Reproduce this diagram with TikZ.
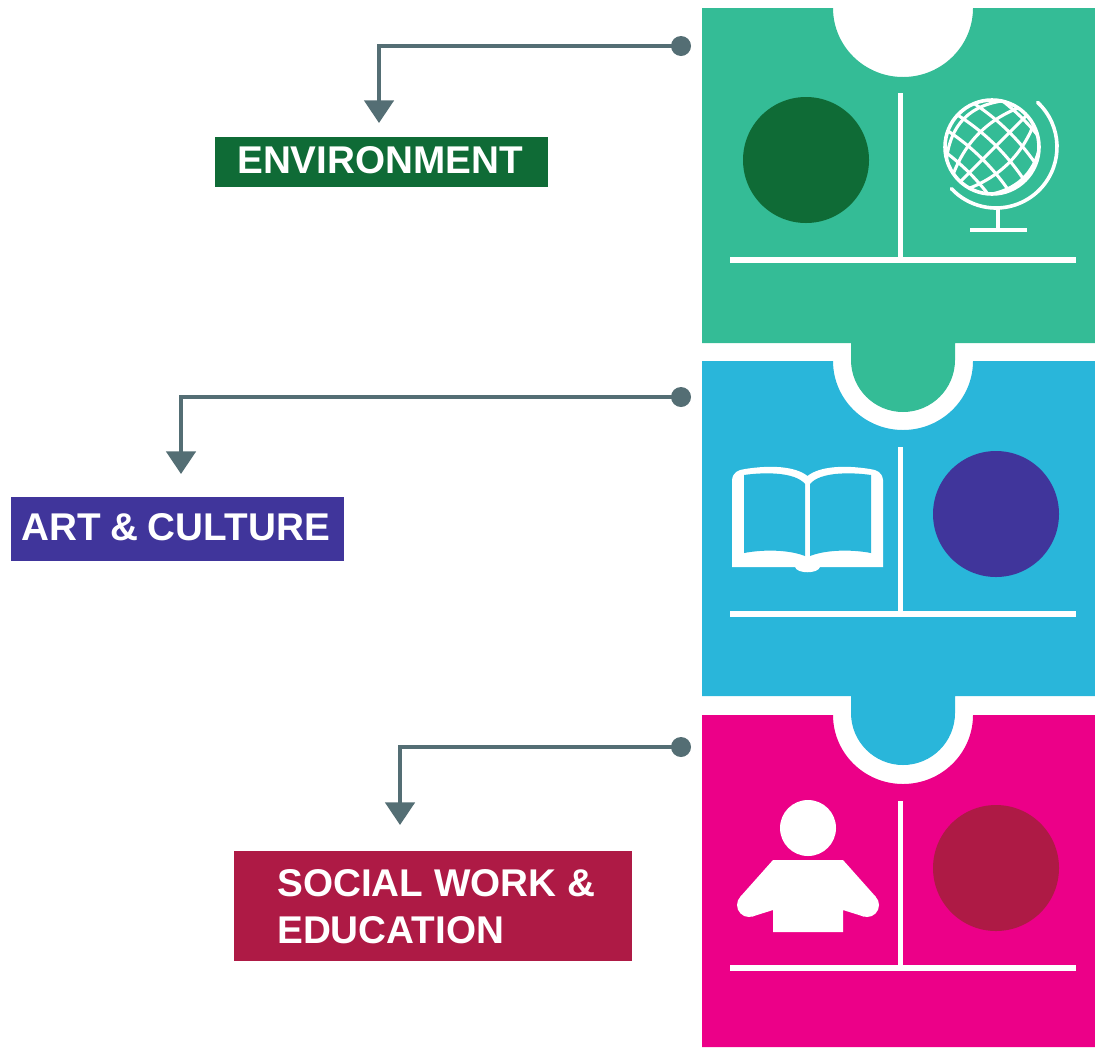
\documentclass[tikz,border=0pt]{standalone}
\usepackage{fontspec}
\setmainfont{Liberation Sans}
\usetikzlibrary{arrows.meta}
\definecolor{cgreen}{HTML}{34BC96}
\definecolor{cblue}{HTML}{29B6DA}
\definecolor{cpink}{HTML}{EC0088}
\definecolor{dgreen}{HTML}{0F6B36}
\definecolor{dpurple}{HTML}{40359B}
\definecolor{dred}{HTML}{AE1A45}
\definecolor{slate}{HTML}{546E74}
\newdimen\pxu
\pxu=0.75pt
\newcommand{\puzzlenotch}[1]{(702,-#1) -- (833,-#1) arc[start angle=180,end angle=360,x radius=70,y radius=69] -- (1095,-#1)}
\newcommand{\panelrules}{%
  \draw[rule] (900.5,-93) -- (900.5,-260);
  \draw[rule] (730,-260) -- (1076,-260);}
% width, height, distance of the first baseline below the top (all in px), text
\newcommand{\boxtext}[4]{\parbox[c][#2\pxu][t]{#1\pxu}{\vspace*{\dimexpr#3\pxu-24pt\relax}#4}}
\newcommand{\capstrut}{\rule{0pt}{24pt}}
\tikzset{
  rule/.style={draw=white,line width=4pt},
  fine/.style={draw=white,line width=2.7pt},
  grid line/.style={draw=white,line width=2.3pt},
  dotnode/.style={circle,fill=slate,inner sep=0pt,minimum size=15pt},
  conn/.style={draw=slate,line width=3pt,-{Triangle[length=17pt,width=22pt]}},
  labelbox/.style={font=\fontsize{29}{35.25}\bfseries\selectfont,text=white,inner sep=0pt,anchor=north west},
  disc/.style={circle,inner sep=0pt,minimum size=94.5pt}
}
\begin{document}
\begin{tikzpicture}[x=0.75pt,y=0.75pt]
\useasboundingbox (0,0) rectangle (1095,-1047);
% puzzle pieces
\fill[cgreen] \puzzlenotch{8} -- (1095,-343) -- (955,-343) -- (955,-360) arc[start angle=0,end angle=-180,radius=52] -- (851,-343) -- (702,-343) -- cycle;
\fill[cblue] \puzzlenotch{361} -- (1095,-696) -- (955,-696) -- (955,-713) arc[start angle=0,end angle=-180,radius=52] -- (851,-696) -- (702,-696) -- cycle;
\fill[cpink] \puzzlenotch{715} -- (1095,-1047) -- (702,-1047) -- cycle;
% dividers
\panelrules
\begin{scope}[yshift=-354*0.75pt]\panelrules\end{scope}
\begin{scope}[yshift=-708*0.75pt]\panelrules\end{scope}
% discs
\node[disc,fill=dgreen] (d1) at (806,-160) {};
\node[disc,fill=dpurple] (d2) at (996,-514) {};
\node[disc,fill=dred] (d3) at (996,-868) {};
% globe
\begin{scope}
  \clip (992,-147) circle (47);
  \begin{scope}[shift={(994,-148)},rotate=-45]
    \foreach \aa in {-42,-21,0,21,42}
      \draw[grid line,domain=-50:50,samples=21,smooth,variable=\t]
        plot ({\aa*(1-0.5*(\t/47)*(\t/47))},{\t});
    \foreach \bb in {-38,-19,0,19,38}
      \draw[grid line,domain=-50:50,samples=21,smooth,variable=\t]
        plot ({\t},{\bb+3-5*(\t/47)*(\t/47)});
  \end{scope}
\end{scope}
\draw[fine] (992,-147) circle (47);
\draw[fine,line cap=round] (996,-147) ++(47:61) arc[start angle=47,end angle=-137,radius=61];
\draw[fine] (998,-208) -- (998,-230);
\draw[draw=white,line width=3.6pt] (970,-230) -- (1027,-230);
% book
\fill[white] (732,-480) .. controls (733,-472) and (738,-470) .. (745,-469)
  .. controls (770,-465) and (795,-466) .. (807.5,-476)
  .. controls (820,-466) and (845,-465) .. (870,-469)
  .. controls (877,-470) and (882,-472) .. (883,-480)
  -- (883,-567) -- (820,-567) .. controls (818,-574) and (797,-574) .. (795,-567) -- (732,-567) -- cycle;
\fill[cblue] (744,-475) .. controls (765,-472) and (795,-472) .. (805,-484) -- (805,-556)
  .. controls (790,-550) and (765,-549) .. (744,-553) -- cycle;
\fill[cblue] (871,-475) .. controls (850,-472) and (820,-472) .. (810,-484) -- (810,-556)
  .. controls (825,-550) and (850,-549) .. (871,-553) -- cycle;
% person
\fill[white] (808,-828) circle (28);
\fill[white] (773,-860) -- (843,-860) -- (875.5,-896.5) -- (864,-916.6) -- (843,-910) -- (843,-932) -- (773,-932) -- (773,-910) -- (752,-916.6) -- (740.5,-896.5) -- cycle;
\fill[white] (749,-905) circle (12);
\fill[white] (867,-905) circle (12);
% labels
\node[labelbox,fill=dgreen] (l1) at (215,-137) {\boxtext{333}{50}{36}{\capstrut\hspace*{16.5pt}ENVIRONMENT}};
\node[labelbox,fill=dpurple] (l2) at (11,-497) {\boxtext{333}{64}{43}{\capstrut\hspace*{7.5pt}ART\hspace{.25em}\&\hspace{.25em}CULTURE}};
\node[labelbox,fill=dred] (l3) at (234,-851) {\boxtext{398}{110}{45}{\capstrut\hspace*{32.25pt}SOCIAL WORK \&\\\hspace*{32.25pt}EDUCATION}};
% connectors
\node[dotnode] (s1) at (681,-46) {};
\node[dotnode] (s2) at (681,-397) {};
\node[dotnode] (s3) at (681,-747) {};
\coordinate (t1) at (379,-123);
\coordinate (t2) at (181,-474);
\coordinate (t3) at (400,-825);
\draw[conn] (s1.center) -| (t1);
\draw[conn] (s2.center) -| (t2);
\draw[conn] (s3.center) -| (t3);
\end{tikzpicture}
\end{document}
